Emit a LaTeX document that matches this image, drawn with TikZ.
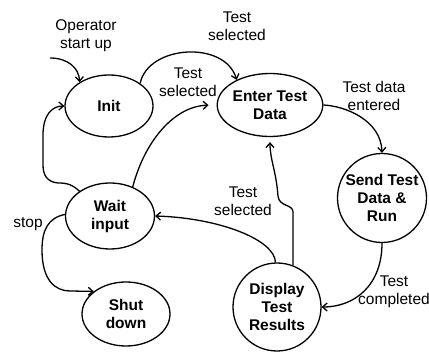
\documentclass[tikz,border=0pt]{standalone}
\usepackage{fontspec}
\setmainfont{Liberation Sans}
\usetikzlibrary{shapes.geometric,arrows.meta}

\begin{document}
\begin{tikzpicture}[x=1pt,y=-1pt,
  every node/.style={font=\fontsize{15.5}{18}\selectfont, align=center, inner sep=0pt},
  state/.style={draw, line width=1.3pt, ellipse, font=\fontsize{15.5}{18}\selectfont\bfseries},
  roundstate/.style={draw, line width=1.3pt, circle, minimum size=89pt, font=\fontsize{15.5}{18}\selectfont\bfseries},
  edge/.style={draw, line width=1.3pt, -{Straight Barb[length=4.5pt,width=8pt]}},
  lbl/.style={}]
\useasboundingbox (0,0) rectangle (429,352);

% states
\node[state, minimum width=88pt, minimum height=62pt] (init) at (109,106) {Init};
\node[state, minimum width=88pt, minimum height=63pt] (enter) at (270,105) {Enter Test\\Data};
\node[roundstate] (send) at (382,198) {Send Test\\Data \&\\Run};
\node[state, minimum width=89pt, minimum height=66pt] (wait) at (110,216) {Wait\\input};
\node[state, minimum width=88pt, minimum height=64pt] (shut) at (126,314) {Shut\\down};
\node[roundstate, minimum size=88pt] (disp) at (277,307) {Display\\Test\\Results};

% edge labels
\node[lbl] (l1) at (86,36) {Operator\\start up};
\node[lbl] (l2) at (237,26) {Test\\selected};
\node[lbl] (l3) at (188,82) {Test\\selected};
\node[lbl] (l4) at (374,96) {Test data\\entered};
\node[lbl] (l5) at (243,201) {Test\\selected};
\node[lbl] (l6) at (28,224) {stop};
\node[lbl] (l7) at (394,292) {Test\\completed};

% transitions
\coordinate (start) at (50,58);
\draw[edge] (start) .. controls (68,58) and (79,68) .. (init.141);
\draw[edge] (init.36) .. controls (148,45) and (225,40) .. (enter.143);
\draw[edge, shorten >=8pt] (wait.52) .. controls (145,140) and (175,106) .. (enter.180);
\draw[edge] (wait.141) .. controls (73,185) and (68,183) .. (58,183)
  .. controls (47,182) and (43,175) .. (43,165) -- (43,135)
  .. controls (43,115) and (52,106) .. (init.180);
\draw[edge] (wait.178) .. controls (48,218) and (42,230) .. (42,250)
  .. controls (42,280) and (55,291) .. (70,291) -- (shut.145);
\draw[edge] (disp.92) .. controls (275,240) and (220,218) .. (wait.0);
\draw[edge, shorten >=5pt] (disp.69) -- (293,212)
  .. controls (293,204) and (279,207) .. (278,196)
  .. controls (276,170) and (270,160) .. (enter.270);
\draw[edge] (enter.0) .. controls (345,106) and (381,120) .. (send.90);
\draw[edge] (send.270) .. controls (382,285) and (355,307) .. (disp.0);
\end{tikzpicture}
\end{document}
